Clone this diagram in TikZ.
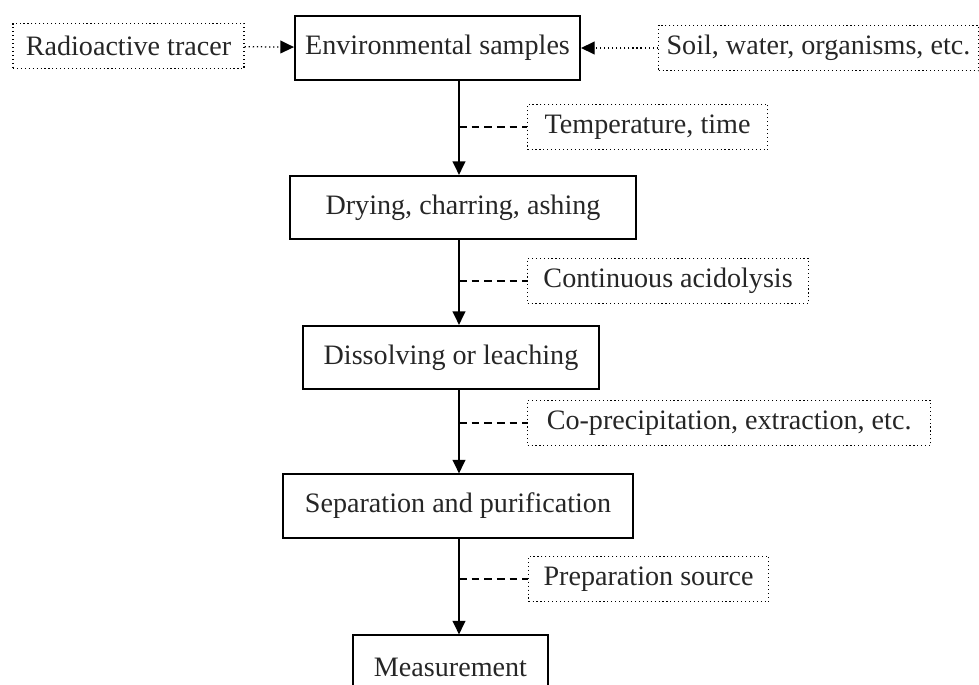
\documentclass[tikz,border=0pt]{standalone}
\usepackage{fontspec}
\setmainfont{Liberation Serif}
\usetikzlibrary{arrows.meta}

\begin{document}
\begin{tikzpicture}[
  x=0.025cm,
  y=-0.025cm,
  every node/.style={font=\fontsize{20}{24}\selectfont, text=black!85},
  stagebox/.style={draw, line width=1.4pt, minimum height=1.58cm, inner xsep=0.2cm},
  notebox/.style={draw, dotted, line width=0.8pt, minimum height=1.14cm, inner xsep=0.2cm, anchor=west},
  flow/.style={line width=1.1pt, -{Triangle[length=3.4mm, width=3.2mm]}},
  feed/.style={dotted, line width=0.9pt, -{Triangle[length=3.4mm, width=3.2mm]}},
  hint/.style={dashed, dash pattern=on 5.5pt off 3.5pt, line width=0.9pt}
]
  \clip (0,0) rectangle (979,684);

  \coordinate (spine) at (459,0);

  % main chain
  \node[stagebox, minimum width=7.125cm] (env) at (437.5,48) {Environmental samples};
  \node[stagebox, minimum width=8.65cm] (dry) at (463,207.5) {Drying, charring, ashing};
  \node[stagebox, minimum width=7.4cm] (dis) at (451,357.5) {Dissolving or leaching};
  \node[stagebox, minimum width=8.75cm] (sep) at (458,506) {Separation and purification};
  \node[stagebox, minimum width=4.875cm] (mea) at (450.5,667) {Measurement};

  % inputs and conditions
  \node[notebox, anchor=center, minimum width=5.775cm] (tracer) at (128.5,46) {Radioactive tracer};
  \node[notebox, minimum width=7.98cm] (soil) at (658,48) {Soil, water, organisms, etc.};
  \node[notebox, minimum width=6cm] (temp) at (527,127) {Temperature, time};
  \node[notebox, minimum width=7.025cm] (acid) at (527,281) {Continuous acidolysis};
  \node[notebox, minimum width=10.075cm] (copr) at (527,423) {Co-precipitation, extraction, etc.};
  \node[notebox, minimum width=6cm] (prep) at (528,579) {Preparation source};

  \draw[feed] (tracer) -- (env);
  \draw[feed] (soil) -- (env);

  \draw[flow] (env.south -| spine) -- (dry.north -| spine);
  \draw[flow] (dry.south -| spine) -- (dis.north -| spine);
  \draw[flow] (dis.south -| spine) -- (sep.north -| spine);
  \draw[flow] (sep.south -| spine) -- (mea.north -| spine);

  \draw[hint] (temp.west -| spine) -- (temp.west);
  \draw[hint] (acid.west -| spine) -- (acid.west);
  \draw[hint] (copr.west -| spine) -- (copr.west);
  \draw[hint] (prep.west -| spine) -- (prep.west);
\end{tikzpicture}
\end{document}
